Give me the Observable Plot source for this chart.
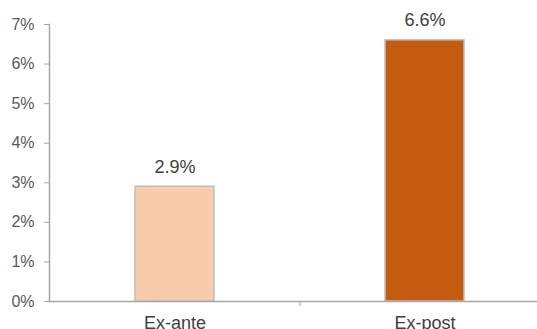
<!DOCTYPE html>
<html>
<head>
<meta charset="utf-8">
<script src="https://cdn.jsdelivr.net/npm/d3@7"></script>
<script src="https://cdn.jsdelivr.net/npm/@observablehq/plot@0.6"></script>
<style>
  html, body { margin: 0; padding: 0; background: #fff; }
  #chart svg { display: block; overflow: visible; }
</style>
</head>
<body>
<div id="chart"></div>
<script>
const categories = ["Ex-ante", "Ex-post"];
const values = [2.9, 6.6];
const colors = ["#F8CBAD", "#C55A11"];
const yTicks = [0, 1, 2, 3, 4, 5, 6, 7];

const data = categories.map((c, i) => ({ cat: c, value: values[i], color: colors[i] }));

const chart = Plot.plot({
  width: 537,
  height: 329,
  marginLeft: 49,
  marginRight: 0,
  marginTop: 24,
  marginBottom: 28,
  style: { fontFamily: "Liberation Sans, Arial, sans-serif", color: "#595959", background: "#fff" },
  x: { domain: categories, range: [49, 549], paddingInner: 0.684, paddingOuter: 0.342, align: 0.5 },
  y: { domain: [0, 7] },
  marks: [
    Plot.barY(data, { x: "cat", y: "value", fill: "color", stroke: "#BFBFBF", strokeWidth: 1.5 }),
    Plot.text(data, { x: "cat", y: "value", text: d => d.value.toFixed(1) + "%", dy: -20, fontSize: 18, fill: "#404040" }),
    Plot.frame({ anchor: "left", stroke: "#A6A6A6", strokeWidth: 1.5 }),
    Plot.ruleY([0], { stroke: "#A6A6A6", strokeWidth: 1.5 }),
    Plot.axisY({ ticks: yTicks, tickFormat: d => d + "%", tickSize: 5, tickPadding: 10, fontSize: 16, stroke: "#A6A6A6", fill: "#595959", label: null }),
    Plot.axisX({ tickSize: 0, tickPadding: 15, fontSize: 18, fill: "#404040", label: null }),
    Plot.axisX({ ticks: ["Ex-ante"], tickSize: 5, dx: 125, text: null, stroke: "#A6A6A6", label: null })
  ]
});
document.getElementById("chart").appendChild(chart);
</script>
</body>
</html>
